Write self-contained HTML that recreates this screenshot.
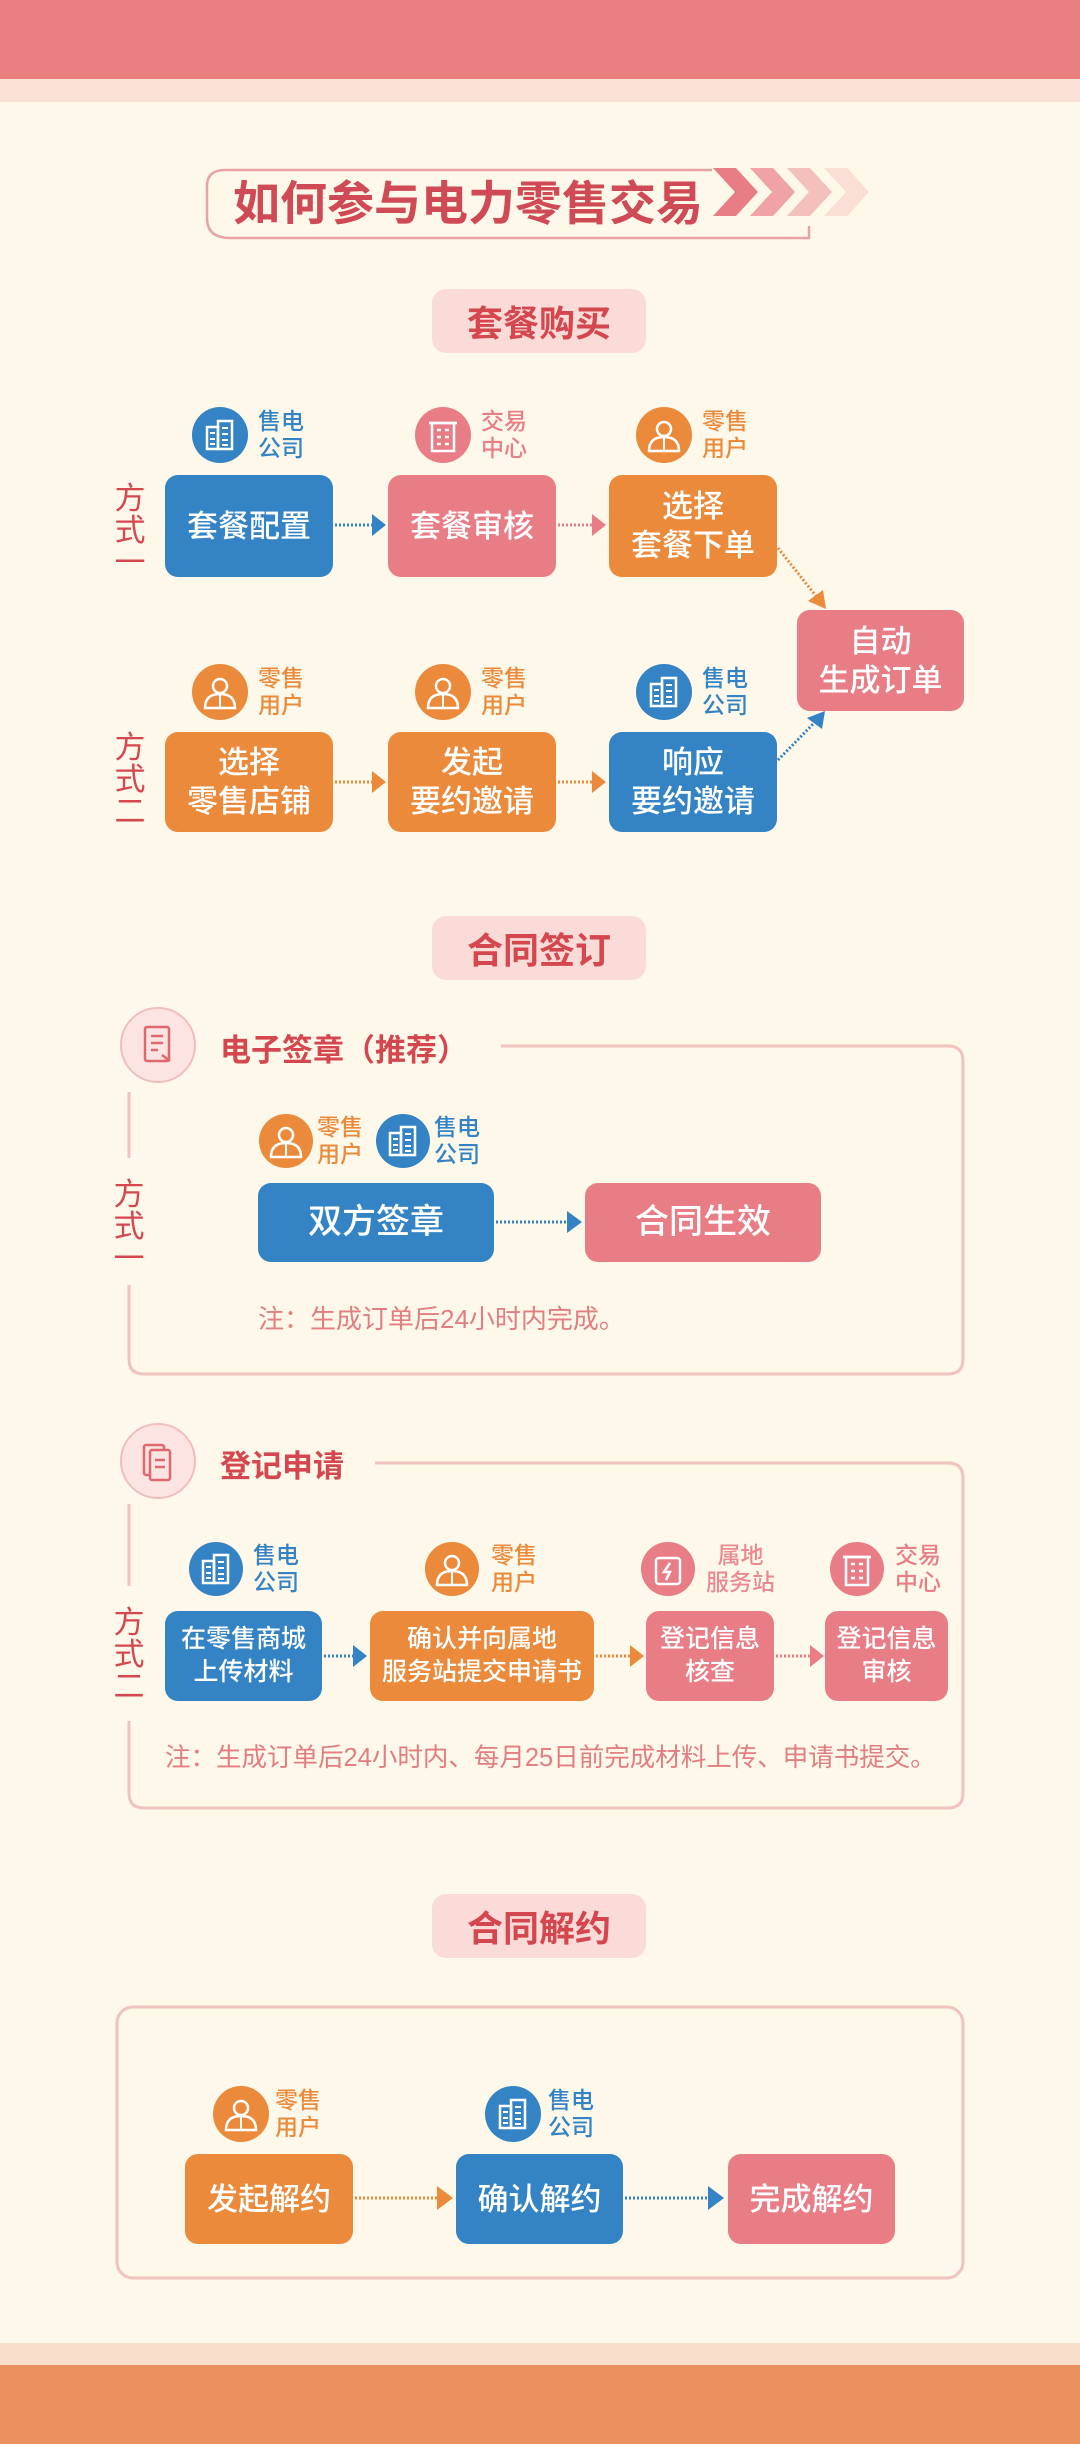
<!DOCTYPE html>
<html><head><meta charset="utf-8">
<style>
*{margin:0;padding:0;box-sizing:border-box}
body{width:1080px;height:2444px;background:#FDF8E9;position:relative;overflow:hidden;font-family:"Liberation Sans","Noto Sans CJK SC",sans-serif}
.a{position:absolute}
.box{position:absolute;border-radius:13px;color:#fff;display:flex;align-items:center;justify-content:center;text-align:center;font-size:31px;line-height:39px;font-weight:500}
.b{background:#3383C5}.p{background:#E97D86}.o{background:#EB8A3B}
.lab{position:absolute;font-size:23px;line-height:27px;font-weight:500}
.lb{color:#3383C5}.lp{color:#E97D86}.lo{color:#EB8A3B}
.badge{position:absolute;left:432px;width:214px;height:64px;border-radius:14px;background:#FADBD7;color:#D5474F;font-size:36px;font-weight:bold;display:flex;align-items:center;justify-content:center}
.fs{position:absolute;width:34px;color:#D5474F;font-size:31px;line-height:32px;text-align:center}
.note{position:absolute;color:#E27D80;font-size:26px;white-space:nowrap}
.hd{position:absolute;color:#D5474F;font-size:31px;font-weight:bold;white-space:nowrap}
</style></head><body>
<div class="a" style="left:0;top:0;width:1080px;height:79px;background:#E88080"></div>
<div class="a" style="left:0;top:79px;width:1080px;height:23px;background:#FBE1D7"></div>
<div class="a" style="left:0;top:2343px;width:1080px;height:22px;background:#F9DFCB"></div>
<div class="a" style="left:0;top:2365px;width:1080px;height:79px;background:#EA905E"></div>

<svg class="a" style="left:0;top:0" width="1080" height="2444">
<defs>
<g id="bld"><rect x="-13" y="-10" width="11" height="22" fill="none" stroke="#fff" stroke-width="2.5"/><rect x="-2" y="-16" width="14" height="28" fill="none" stroke="#fff" stroke-width="2.5"/><path d="M-10 -4h5M-10 2h5M-10 7h5M2 -9h6M2 -3h6M2 3h6M2 8h6" stroke="#fff" stroke-width="2"/></g>
<g id="usr"><circle cx="0" cy="-8" r="7" fill="none" stroke="#fff" stroke-width="2.5"/><path d="M-15 14q0-14 15-14q15 0 15 14z" fill="none" stroke="#fff" stroke-width="2.5"/><path d="M0 1v12" stroke="#fff" stroke-width="2"/></g>
<g id="ctr"><rect x="-11" y="-14" width="22" height="28" fill="none" stroke="#fff" stroke-width="2.5"/><path d="M-14 -14h28M-6 -7h4M2 -7h4M-6 0h4M2 0h4M-6 7h4M2 7h4" stroke="#fff" stroke-width="2.5"/></g>
<g id="stn"><rect x="-12" y="-13" width="24" height="26" rx="3" fill="none" stroke="#fff" stroke-width="2.5"/><path d="M2 -8l-6 9h6l-4 8" stroke="#fff" stroke-width="2.5" fill="none"/></g>
</defs>
<path d="M809 226 V238 H230 Q207 238 207 218 V186 Q207 170 225 170 H712" fill="none" stroke="#E8A3A5" stroke-width="2.5"/>
<g fill="#E97D86">
<polygon points="713,168 736,168 758,192 736,216 713,216 735,192" opacity="1"/>
<polygon points="750,168 773,168 795,192 773,216 750,216 772,192" opacity="0.7"/>
<polygon points="787,168 810,168 832,192 810,216 787,216 809,192" opacity="0.45"/>
<polygon points="824,168 847,168 869,192 847,216 824,216 846,192" opacity="0.2"/>
</g>
<circle cx="220" cy="435" r="28" fill="#3383C5"/><use href="#bld" x="220" y="437"/>
<circle cx="443" cy="435" r="28" fill="#E97D86"/><use href="#ctr" x="443" y="437"/>
<circle cx="664" cy="435" r="28" fill="#EB8A3B"/><use href="#usr" x="664" y="437"/>
<circle cx="220" cy="692" r="28" fill="#EB8A3B"/><use href="#usr" x="220" y="694"/>
<circle cx="443" cy="692" r="28" fill="#EB8A3B"/><use href="#usr" x="443" y="694"/>
<circle cx="664" cy="692" r="28" fill="#3383C5"/><use href="#bld" x="664" y="694"/>
<g stroke-width="3" stroke-dasharray="2 2">
<line x1="335" y1="525" x2="372" y2="525" stroke="#3383C5"/>
<line x1="558" y1="525" x2="592" y2="525" stroke="#E97D86"/>
<line x1="335" y1="782" x2="372" y2="782" stroke="#EB8A3B"/>
<line x1="558" y1="782" x2="592" y2="782" stroke="#EB8A3B"/>
<line x1="778" y1="548" x2="816" y2="596" stroke="#EB8A3B"/>
<line x1="778" y1="760" x2="815" y2="722" stroke="#3383C5"/>
</g>
<polygon points="372,514 386,525 372,536" fill="#3383C5"/>
<polygon points="592,514 606,525 592,536" fill="#E97D86"/>
<polygon points="372,771 386,782 372,793" fill="#EB8A3B"/>
<polygon points="592,771 606,782 592,793" fill="#EB8A3B"/>
<polygon points="808,601 826,609 823,590" fill="#EB8A3B"/>
<polygon points="807,718 825,711 822,729" fill="#3383C5"/>
<path d="M501 1046 H948 Q963 1046 963 1061 V1359 Q963 1374 948 1374 H144 Q129 1374 129 1359 V1285 M129 1158 V1092" fill="none" stroke="#F0C2C0" stroke-width="3"/>
<circle cx="158" cy="1045" r="37" fill="#FBE4E1" stroke="#F0BFBD" stroke-width="2"/>
<g stroke="#E0676D" stroke-width="2.5" fill="none"><rect x="145" y="1027" width="24" height="34" rx="2"/><path d="M151 1036h12M151 1043h12M151 1050h7M162 1055l8 6"/></g>
<circle cx="286" cy="1141" r="27" fill="#EB8A3B"/><use href="#usr" x="286" y="1143"/>
<circle cx="403" cy="1141" r="27" fill="#3383C5"/><use href="#bld" x="403" y="1143"/>
<line x1="496" y1="1222" x2="567" y2="1222" stroke="#3383C5" stroke-width="3" stroke-dasharray="2 2"/>
<polygon points="567,1211 582,1222 567,1233" fill="#3383C5"/>
<path d="M375 1463 H948 Q963 1463 963 1478 V1793 Q963 1808 948 1808 H144 Q129 1808 129 1793 V1721 M129 1586 V1504" fill="none" stroke="#F0C2C0" stroke-width="3"/>
<circle cx="158" cy="1461" r="37" fill="#FBE4E1" stroke="#F0BFBD" stroke-width="2"/>
<g stroke="#E0676D" stroke-width="2.5" fill="none"><rect x="144" y="1445" width="20" height="30" rx="2"/><rect x="150" y="1450" width="20" height="30" rx="2" fill="#FBE4E1"/><path d="M155 1460h10M155 1467h10"/></g>
<circle cx="216" cy="1569" r="27" fill="#3383C5"/><use href="#bld" x="216" y="1571"/>
<circle cx="452" cy="1569" r="27" fill="#EB8A3B"/><use href="#usr" x="452" y="1571"/>
<circle cx="668" cy="1569" r="27" fill="#E97D86"/><use href="#stn" x="668" y="1571"/>
<circle cx="857" cy="1569" r="27" fill="#E97D86"/><use href="#ctr" x="857" y="1571"/>
<g stroke-width="3" stroke-dasharray="2 2">
<line x1="324" y1="1656" x2="353" y2="1656" stroke="#3383C5"/>
<line x1="596" y1="1656" x2="630" y2="1656" stroke="#EB8A3B"/>
<line x1="776" y1="1656" x2="810" y2="1656" stroke="#E97D86"/>
</g>
<polygon points="353,1645 367,1656 353,1667" fill="#3383C5"/>
<polygon points="630,1645 644,1656 630,1667" fill="#EB8A3B"/>
<polygon points="810,1645 824,1656 810,1667" fill="#E97D86"/>
<rect x="117" y="2007" width="846" height="271" rx="16" fill="none" stroke="#F0C2C0" stroke-width="3"/>
<circle cx="241" cy="2114" r="28" fill="#EB8A3B"/><use href="#usr" x="241" y="2116"/>
<circle cx="513" cy="2114" r="28" fill="#3383C5"/><use href="#bld" x="513" y="2116"/>
<g stroke-width="3" stroke-dasharray="2 2">
<line x1="355" y1="2198" x2="437" y2="2198" stroke="#EB8A3B"/>
<line x1="625" y1="2198" x2="708" y2="2198" stroke="#3383C5"/>
</g>
<polygon points="437,2186 453,2198 437,2210" fill="#EB8A3B"/>
<polygon points="708,2186 724,2198 708,2210" fill="#3383C5"/>
</svg>

<div class="a" style="left:233px;top:175px;font-size:47px;font-weight:bold;color:#D04A55;line-height:58px;white-space:nowrap">如何参与电力零售交易</div>

<div class="badge" style="top:289px">套餐购买</div>
<div class="badge" style="top:916px">合同签订</div>
<div class="badge" style="top:1894px">合同解约</div>

<div class="lab lb" style="left:258px;top:408px">售电<br>公司</div>
<div class="lab lp" style="left:481px;top:408px">交易<br>中心</div>
<div class="lab lo" style="left:702px;top:408px">零售<br>用户</div>
<div class="fs" style="left:113px;top:483px">方<br>式<br>一</div>
<div class="box b" style="left:165px;top:475px;width:168px;height:102px">套餐配置</div>
<div class="box p" style="left:388px;top:475px;width:168px;height:102px">套餐审核</div>
<div class="box o" style="left:609px;top:475px;width:168px;height:102px">选择<br>套餐下单</div>
<div class="box p" style="left:797px;top:610px;width:167px;height:101px">自动<br>生成订单</div>
<div class="lab lo" style="left:258px;top:665px">零售<br>用户</div>
<div class="lab lo" style="left:481px;top:665px">零售<br>用户</div>
<div class="lab lb" style="left:702px;top:665px">售电<br>公司</div>
<div class="fs" style="left:113px;top:732px">方<br>式<br>二</div>
<div class="box o" style="left:165px;top:732px;width:168px;height:100px">选择<br>零售店铺</div>
<div class="box o" style="left:388px;top:732px;width:168px;height:100px">发起<br>要约邀请</div>
<div class="box b" style="left:609px;top:732px;width:168px;height:100px">响应<br>要约邀请</div>

<div class="hd" style="left:220px;top:1025px">电子签章（推荐）</div>
<div class="lab lo" style="left:317px;top:1114px">零售<br>用户</div>
<div class="lab lb" style="left:434px;top:1114px">售电<br>公司</div>
<div class="fs" style="left:112px;top:1179px">方<br>式<br>一</div>
<div class="box b" style="left:258px;top:1183px;width:236px;height:79px;font-size:34px">双方签章</div>
<div class="box p" style="left:585px;top:1183px;width:236px;height:79px;font-size:34px">合同生效</div>
<div class="note" style="left:258px;top:1299px">注：生成订单后24小时内完成。</div>

<div class="hd" style="left:220px;top:1441px">登记申请</div>
<div class="lab lb" style="left:253px;top:1542px">售电<br>公司</div>
<div class="lab lo" style="left:491px;top:1542px">零售<br>用户</div>
<div class="lab lp" style="left:706px;top:1542px;text-align:center;opacity:.9">属地<br>服务站</div>
<div class="lab lp" style="left:895px;top:1542px">交易<br>中心</div>
<div class="fs" style="left:112px;top:1607px">方<br>式<br>二</div>
<div class="box b" style="left:165px;top:1611px;width:157px;height:90px;font-size:25px;line-height:33px">在零售商城<br>上传材料</div>
<div class="box o" style="left:370px;top:1611px;width:224px;height:90px;font-size:25px;line-height:33px">确认并向属地<br>服务站提交申请书</div>
<div class="box p" style="left:646px;top:1611px;width:128px;height:90px;font-size:25px;line-height:33px">登记信息<br>核查</div>
<div class="box p" style="left:825px;top:1611px;width:123px;height:90px;font-size:25px;line-height:33px">登记信息<br>审核</div>
<div class="note" style="left:165px;top:1737px;font-size:25.5px">注：生成订单后24小时内、每月25日前完成材料上传、申请书提交。</div>

<div class="lab lo" style="left:275px;top:2087px">零售<br>用户</div>
<div class="lab lb" style="left:548px;top:2087px">售电<br>公司</div>
<div class="box o" style="left:185px;top:2154px;width:168px;height:90px">发起解约</div>
<div class="box b" style="left:456px;top:2154px;width:167px;height:90px">确认解约</div>
<div class="box p" style="left:728px;top:2154px;width:167px;height:90px">完成解约</div>
</body></html>
